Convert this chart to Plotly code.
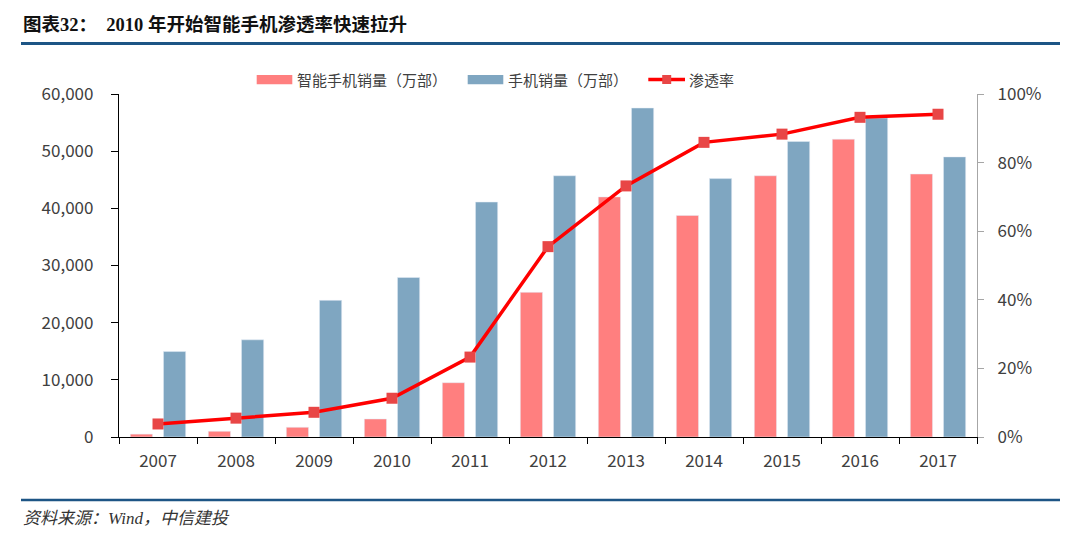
import plotly.graph_objects as go

years = ["2007", "2008", "2009", "2010", "2011", "2012", "2013", "2014", "2015", "2016", "2017"]
smart_sales = [500, 1000, 1700, 3150, 9500, 25300, 42000, 38750, 45700, 52100, 46000]
phone_sales = [14950, 17000, 23900, 27900, 41100, 45700, 57550, 45200, 51700, 55800, 49000]
penetration = [0.038, 0.055, 0.072, 0.113, 0.233, 0.555, 0.732, 0.859, 0.883, 0.932, 0.941]

name_smart = "智能手机销量（万部）"
name_phone = "手机销量（万部）"
name_pen = "渗透率"
title_text = "<b>图表32：  2010 年开始智能手机渗透率快速拉升</b>"
source_text = "<i>资料来源：Wind，中信建投</i>"

PINK = "#FF7F7F"
BLUE = "#7FA6C1"
RED = "#FF0000"
MARK = "#E84646"
NAVY = "#1D5585"
TXT = "#404040"
FONT = "Noto Sans CJK SC"

# page offset (browser body margin) and figure size
OFF = 8
FW, FH = 1080 - OFF, 537 - OFF
# plot area geometry in screen pixels
L, R, T, B = 119, 977, 94, 437
W, H = R - L, B - T
def px(x):
    return (x - L) / W
def py(y):
    return (B - y) / H

fig = go.Figure()
fig.add_trace(go.Bar(x=years, y=smart_sales, name=name_smart, marker_color=PINK, yaxis="y"))
fig.add_trace(go.Bar(x=years, y=phone_sales, name=name_phone, marker_color=BLUE, yaxis="y"))
fig.add_trace(go.Scatter(x=years, y=penetration, name=name_pen, yaxis="y2", mode="lines+markers",
                         line=dict(color=RED, width=3.5),
                         marker=dict(symbol="square", size=11, color=MARK)))

shapes = []
annotations = []
# title and rules
annotations.append(dict(text=title_text, xref="paper", yref="paper", x=px(21), y=py(24),
                        xanchor="left", yanchor="middle", showarrow=False,
                        font=dict(family="Liberation Serif, Noto Sans CJK SC", size=18.5, color="#111111")))
shapes.append(dict(type="line", xref="paper", yref="paper", x0=px(21), x1=px(1060), y0=py(43.5), y1=py(43.5),
                   line=dict(color=NAVY, width=3)))
shapes.append(dict(type="line", xref="paper", yref="paper", x0=px(21), x1=px(1060), y0=py(500), y1=py(500),
                   line=dict(color=NAVY, width=2.5)))
annotations.append(dict(text=source_text, xref="paper", yref="paper", x=px(21), y=py(518),
                        xanchor="left", yanchor="middle", showarrow=False,
                        font=dict(family="Liberation Serif, Noto Sans CJK SC", size=17, color="#333333")))

# legend
ly = 79.5
shapes.append(dict(type="rect", xref="paper", yref="paper", x0=px(256.7), x1=px(292.3), y0=py(84.3), y1=py(75),
                   fillcolor=PINK, line=dict(width=0)))
annotations.append(dict(text=name_smart, xref="paper", yref="paper", x=px(295), y=py(ly), xanchor="left",
                        yanchor="middle", showarrow=False, font=dict(family=FONT, size=15, color=TXT)))
shapes.append(dict(type="rect", xref="paper", yref="paper", x0=px(467.7), x1=px(503.3), y0=py(84.3), y1=py(75),
                   fillcolor=BLUE, line=dict(width=0)))
annotations.append(dict(text=name_phone, xref="paper", yref="paper", x=px(506), y=py(ly), xanchor="left",
                        yanchor="middle", showarrow=False, font=dict(family=FONT, size=15, color=TXT)))
shapes.append(dict(type="line", xref="paper", yref="paper", x0=px(648.3), x1=px(685), y0=py(ly), y1=py(ly),
                   line=dict(color=RED, width=3.5)))
shapes.append(dict(type="rect", xref="paper", yref="paper", x0=px(662.2), x1=px(671.2), y0=py(ly + 4.5), y1=py(ly - 4.5),
                   fillcolor=MARK, line=dict(width=0)))
annotations.append(dict(text=name_pen, xref="paper", yref="paper", x=px(687), y=py(ly), xanchor="left",
                        yanchor="middle", showarrow=False, font=dict(family=FONT, size=15, color=TXT)))

fig.update_layout(
    width=FW, height=FH,
    margin=dict(l=L - OFF, r=FW - (R - OFF), t=T - OFF, b=FH - (B - OFF), pad=0),
    paper_bgcolor="white", plot_bgcolor="white",
    showlegend=False,
    barmode="group", bargap=0.15, bargroupgap=0.33,
    font=dict(family=FONT, size=16, color=TXT),
    xaxis=dict(type="category", range=[-0.5, len(years) - 0.5], showline=True, linecolor="black", linewidth=1.3,
               ticks="outside", tickson="boundaries", ticklen=6, tickcolor="black", tickwidth=1.3,
               showgrid=False, tickfont=dict(size=17, color=TXT), ticklabelstandoff=8),
    yaxis=dict(range=[0, 60000], dtick=10000, tickformat=",", showline=True, linecolor="black", linewidth=1.3,
               ticks="outside", ticklen=7, tickcolor="black", tickwidth=1.3, showgrid=False, zeroline=False,
               tickfont=dict(size=17, color=TXT), ticklabelstandoff=14),
    yaxis2=dict(range=[0, 1], dtick=0.2, tickformat=".0%", overlaying="y", side="right",
                showline=True, linecolor="#A6A6A6", linewidth=1.3, ticks="outside", ticklen=6,
                tickcolor="#A6A6A6", tickwidth=1.3, showgrid=False, zeroline=False,
                tickfont=dict(size=17, color=TXT), ticklabelstandoff=10),
    shapes=shapes, annotations=annotations,
)

fig.write_html("out.html")
